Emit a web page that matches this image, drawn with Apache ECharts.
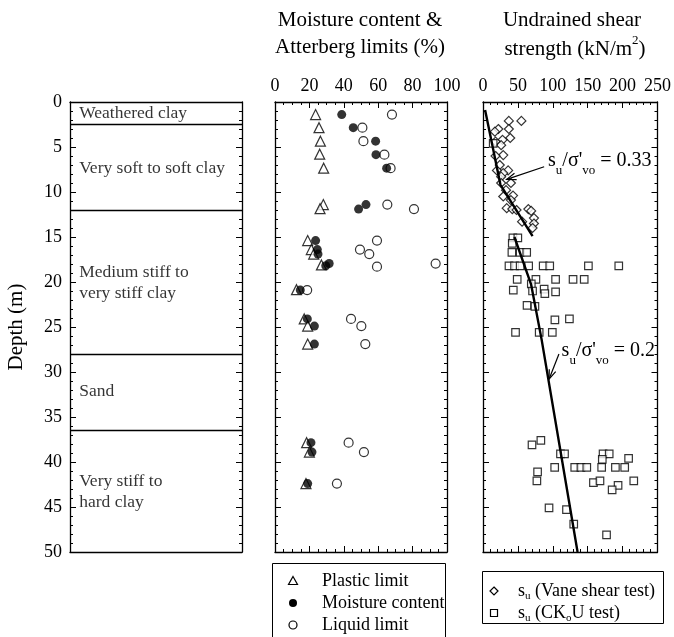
<!DOCTYPE html>
<html>
<head>
<meta charset="utf-8">
<script src="https://cdn.jsdelivr.net/npm/echarts@6/dist/echarts.min.js"></script>
<style>
  html, body { margin: 0; padding: 0; background: #fff; }
  #chart { width: 674px; height: 637px; }
</style>
</head>
<body>
<div id="chart"></div>
<script>
const FONT = '"Liberation Serif", "Times New Roman", serif';
const BLACK = '#000';

// ---- Soil profile ----
const layerBoundaries = [2.5, 12, 28, 36.5];
const layerNames = ['Weathered clay', 'Very soft to soft clay', 'Medium stiff to\nvery stiff clay', 'Sand', 'Very stiff to\nhard clay'];
const layerLabelDepths = [1.25, 7.4, 20.1, 32.2, 43.3];

// ---- Moisture content & Atterberg limits (%) vs depth (m) ----
const plasticDepth = [1.4, 2.85, 4.35, 5.8, 7.35, 11.4, 11.85, 15.4, 16.4, 16.9, 18.1, 20.85, 24.1, 24.9, 26.9, 37.85, 38.9, 42.4];
const plasticLimit = [23.6, 25.6, 26.4, 26.0, 28.3, 28.1, 26.2, 19.0, 21.1, 22.5, 27.0, 12.5, 17.0, 19.0, 19.0, 18.4, 20.0, 18.0];

const moistureDepth = [1.4, 2.85, 4.35, 5.85, 7.35, 11.4, 11.9, 15.4, 16.4, 16.9, 18.2, 17.95, 20.9, 24.1, 24.9, 26.9, 37.85, 38.9, 42.4];
const moistureContent = [38.8, 45.5, 58.5, 58.7, 64.9, 52.9, 48.6, 23.6, 24.6, 25.0, 29.5, 31.5, 14.7, 18.8, 22.9, 22.9, 20.9, 21.5, 19.0];

const liquidDepth = [1.4, 2.85, 4.35, 5.85, 7.35, 11.4, 11.9, 15.4, 16.4, 16.9, 18.3, 17.95, 20.9, 24.1, 24.9, 26.9, 37.85, 38.9, 42.4];
const liquidLimit = [68.0, 50.8, 51.4, 63.6, 67.2, 65.3, 80.8, 59.3, 49.4, 54.8, 59.3, 93.4, 18.7, 44.2, 50.2, 52.5, 42.8, 51.7, 36.0];

// ---- Undrained shear strength (kN/m2) vs depth (m) ----
const vaneSu = [37, 55, 22, 37, 17, 39, 28, 18, 26, 29, 18, 24, 36, 20, 29, 26, 26, 40, 33, 43, 40, 29, 34, 42, 48, 65, 69, 73, 73, 56, 71];
const vaneDepth = [2.1, 2.1, 3.0, 3.0, 3.3, 4.0, 4.2, 4.4, 4.8, 5.9, 6.0, 7.0, 7.6, 7.6, 7.9, 8.3, 9.0, 9.0, 9.8, 10.4, 10.9, 10.5, 11.8, 11.9, 12.0, 11.9, 12.1, 12.9, 13.5, 13.3, 14.0];

const ckouSu = [14.6,
  42.8, 49.9, 41.9, 41.4, 53.2, 62.6,
  37.2, 45.2, 53.2, 65.4, 86.2, 95.6, 151, 194.5,
  49, 75.8, 104, 129, 145, 69.2,
  43.4, 71, 87.6, 88.6, 104, 63.1, 74.4,
  103, 123.8, 46.6, 80.5, 99.3,
  70.2, 82.9, 111, 116.8, 172, 180.8, 170.9, 208.6,
  102.7, 131.4, 140.3, 148.7, 170, 189.7, 203,
  78.2, 77.2, 158.2, 167.6, 193.5, 185, 216,
  94.6, 119.6, 130, 177];
const ckouDepth = [4.6,
  15.1, 15.1, 15.7, 16.7, 16.7, 16.7,
  18.2, 18.2, 18.2, 18.2, 18.2, 18.2, 18.2, 18.2,
  19.7, 19.7, 19.7, 19.7, 19.7, 20.2,
  20.9, 21.0, 20.8, 21.3, 21.1, 22.6, 22.7,
  24.2, 24.1, 25.6, 25.6, 25.6,
  38.1, 37.6, 39.1, 39.1, 39.1, 39.1, 39.7, 39.6,
  40.6, 40.6, 40.6, 40.6, 40.6, 40.6, 40.6,
  41.1, 42.1, 42.3, 42.1, 42.6, 43.1, 42.1,
  45.1, 45.3, 46.9, 48.1];

// Trend lines su / sigma'vo
const trendUpperSu = [3, 25, 71];
const trendUpperDepth = [0.9, 9.2, 14.9];
const trendLowerSu = [45, 69, 84, 135.5];
const trendLowerDepth = [15.0, 20.3, 26.4, 50];

const ratioLabels = ['0.33', '0.2'];

function zip(xs, ys) { return xs.map((x, i) => [x, ys[i]]); }

const chart = echarts.init(document.getElementById('chart'), null, { renderer: 'canvas' });

const tickLine = { color: BLACK, width: 1 };
const axisLineStyle = { show: true, onZero: false, lineStyle: { color: BLACK, width: 1.3 } };

function depthAxis(grid, position, showLabel) {
  return {
    type: 'value', gridIndex: grid, position: position, inverse: true,
    min: 0, max: 50, interval: 5,
    axisLine: axisLineStyle,
    axisTick: { show: true, inside: true, length: 6, lineStyle: tickLine },
    minorTick: { show: true, splitNumber: 5, length: 3, lineStyle: tickLine },
    axisLabel: { show: showLabel, color: BLACK, fontFamily: FONT, fontSize: 18, margin: 8 },
    splitLine: { show: false },
    name: showLabel ? 'Depth (m)' : '',
    nameLocation: 'middle', nameGap: 43, nameRotate: 90,
    nameTextStyle: { color: BLACK, fontFamily: FONT, fontSize: 21 }
  };
}

function valueAxis(grid, position, max, interval, minorSplit, showLabel) {
  return {
    type: 'value', gridIndex: grid, position: position,
    min: 0, max: max, interval: interval,
    axisLine: axisLineStyle,
    axisTick: { show: true, inside: true, length: 6, lineStyle: tickLine },
    minorTick: { show: true, splitNumber: minorSplit, length: 3, lineStyle: tickLine },
    axisLabel: { show: showLabel, color: BLACK, fontFamily: FONT, fontSize: 18, margin: 7 },
    splitLine: { show: false }
  };
}

function frameAxis(grid, position) {
  return {
    type: 'value', gridIndex: grid, position: position, min: 0, max: 1,
    axisLine: axisLineStyle, axisTick: { show: false }, minorTick: { show: false },
    axisLabel: { show: false }, splitLine: { show: false }
  };
}

const openStyle = { color: '#fff', borderColor: BLACK, borderWidth: 1.2 };

chart.setOption({
  animation: false,
  backgroundColor: '#fff',
  grid: [
    { left: 70, top: 102, width: 172, height: 450 },
    { left: 275, top: 102, width: 172, height: 450 },
    { left: 483, top: 102, width: 177, height: 450 }
  ],
  xAxis: [
    frameAxis(0, 'top'),
    frameAxis(0, 'bottom'),
    valueAxis(1, 'top', 100, 20, 4, true),
    valueAxis(1, 'bottom', 100, 20, 4, false),
    valueAxis(2, 'top', 250, 50, 5, true),
    valueAxis(2, 'bottom', 250, 50, 5, false)
  ],
  yAxis: [
    depthAxis(0, 'left', true),
    depthAxis(0, 'right', false),
    depthAxis(1, 'left', false),
    depthAxis(1, 'right', false),
    depthAxis(2, 'left', false),
    depthAxis(2, 'right', false)
  ],
  series: [
    {
      name: 'Soil layers', type: 'scatter', xAxisIndex: 0, yAxisIndex: 0,
      symbolSize: 0, silent: true,
      data: layerNames.map((n, i) => ({ name: n, value: [0.03, layerLabelDepths[i]] })),
      label: {
        show: true, position: 'right', distance: 4, formatter: '{b}',
        color: BLACK, fontFamily: FONT, fontSize: 17.5, lineHeight: 21, align: 'left'
      },
      markLine: {
        silent: true, symbol: 'none', animation: false,
        label: { show: false },
        lineStyle: { color: BLACK, width: 1.3, type: 'solid' },
        data: layerBoundaries.map(d => ({ yAxis: d }))
      }
    },
    {
      name: 'Liquid limit', type: 'scatter', xAxisIndex: 2, yAxisIndex: 2,
      symbol: 'circle', symbolSize: 9, itemStyle: openStyle,
      data: zip(liquidLimit, liquidDepth)
    },
    {
      name: 'Plastic limit', type: 'scatter', xAxisIndex: 2, yAxisIndex: 2,
      symbol: 'triangle', symbolSize: 10, itemStyle: openStyle,
      data: zip(plasticLimit, plasticDepth)
    },
    {
      name: 'Moisture content', type: 'scatter', xAxisIndex: 2, yAxisIndex: 2,
      symbol: 'circle', symbolSize: 9, itemStyle: { color: BLACK },
      data: zip(moistureContent, moistureDepth)
    },
    {
      name: 'Vane shear test', type: 'scatter', xAxisIndex: 4, yAxisIndex: 4,
      symbol: 'diamond', symbolSize: 9, itemStyle: openStyle,
      data: zip(vaneSu, vaneDepth)
    },
    {
      name: 'CKoU test', type: 'scatter', xAxisIndex: 4, yAxisIndex: 4,
      symbol: 'rect', symbolSize: 7.5, itemStyle: openStyle,
      data: zip(ckouSu, ckouDepth)
    },
    {
      name: 'Trend 0.33', type: 'line', xAxisIndex: 4, yAxisIndex: 4,
      symbol: 'none', silent: true, z: 4,
      lineStyle: { color: BLACK, width: 2.4 },
      data: zip(trendUpperSu, trendUpperDepth)
    },
    {
      name: 'Trend 0.2', type: 'line', xAxisIndex: 4, yAxisIndex: 4,
      symbol: 'none', silent: true, z: 4,
      lineStyle: { color: BLACK, width: 2.4 },
      data: zip(trendLowerSu, trendLowerDepth)
    }
  ]
});

// ---- Titles, legends and ratio annotations ----
// main tokens sit at the top of the line box, subscripts at its bottom
const mainTok = { fontFamily: FONT, fontSize: 20, lineHeight: 21, verticalAlign: 'top', color: BLACK };
const subTok = { fontFamily: FONT, fontSize: 13, lineHeight: 26, verticalAlign: 'bottom', color: BLACK };

function textEl(x, y, text, size, align, rich) {
  const style = {
    x: x, y: y, text: text, fill: BLACK,
    font: size + 'px ' + FONT, fontFamily: FONT, fontSize: size,
    align: align || 'left', verticalAlign: 'middle',
    textAlign: align || 'left', textVerticalAlign: 'middle'
  };
  if (rich) { style.rich = rich; style.verticalAlign = 'top'; style.textVerticalAlign = 'top'; }
  return { type: 'text', silent: true, style: style };
}

const graphics = [];

// panel titles
graphics.push(textEl(360, 20, 'Moisture content &', 21, 'center'));
graphics.push(textEl(360, 47, 'Atterberg limits (%)', 21, 'center'));
graphics.push(textEl(572, 20, 'Undrained shear', 21, 'center'));
graphics.push(textEl(575, 34, '{m|strength (kN/m}{p|2}{m|)}', 21, 'center', {
  m: { fontFamily: FONT, fontSize: 21, lineHeight: 26, verticalAlign: 'bottom', color: BLACK },
  p: { fontFamily: FONT, fontSize: 13, lineHeight: 13, verticalAlign: 'top', color: BLACK }
}));

// legend: index properties
graphics.push({ type: 'rect', silent: true, shape: { x: 272.5, y: 563.5, width: 173, height: 120 },
  style: { fill: null, stroke: BLACK, lineWidth: 1 } });
graphics.push({ type: 'polygon', silent: true, shape: { points: [[293, 576.5], [297.5, 584.5], [288.5, 584.5]] },
  style: { fill: '#fff', stroke: BLACK, lineWidth: 1.2 } });
graphics.push({ type: 'circle', silent: true, shape: { cx: 293, cy: 603, r: 4 }, style: { fill: BLACK } });
graphics.push({ type: 'circle', silent: true, shape: { cx: 293, cy: 625, r: 4 },
  style: { fill: '#fff', stroke: BLACK, lineWidth: 1.2 } });
graphics.push(textEl(322, 581, 'Plastic limit', 18));
graphics.push(textEl(322, 603, 'Moisture content', 18));
graphics.push(textEl(322, 625, 'Liquid limit', 18));

// legend: shear strength
const legTok = { fontFamily: FONT, fontSize: 18, lineHeight: 18, verticalAlign: 'top', color: BLACK };
const legSub = { fontFamily: FONT, fontSize: 11, lineHeight: 20, verticalAlign: 'bottom', color: BLACK };
graphics.push({ type: 'rect', silent: true, shape: { x: 482.5, y: 571.5, width: 181, height: 52 },
  style: { fill: null, stroke: BLACK, lineWidth: 1 } });
graphics.push({ type: 'polygon', silent: true, shape: { points: [[494, 587], [498, 591], [494, 595], [490, 591]] },
  style: { fill: '#fff', stroke: BLACK, lineWidth: 1.2 } });
graphics.push({ type: 'rect', silent: true, shape: { x: 490.5, y: 609.5, width: 7, height: 7 },
  style: { fill: '#fff', stroke: BLACK, lineWidth: 1.2 } });
graphics.push(textEl(518, 582, '{m|s}{s|u}{m| (Vane shear test)}', 18, 'left', { m: legTok, s: legSub }));
graphics.push(textEl(518, 604, '{m|s}{s|u}{m| (CK}{s|o}{m|U test)}', 18, 'left', { m: legTok, s: legSub }));

// su / sigma'vo annotations with open arrows
const ratioTextAt = [[93.2, 6.6], [112.6, 27.7]];
const ratioArrowTail = [[87.6, 7.2], [108.8, 28.0]];
const ratioArrowTip = [[33.9, 8.6], [94.6, 30.8]];

function toPx(pt) { return chart.convertToPixel({ xAxisIndex: 4, yAxisIndex: 4 }, pt); }

ratioLabels.forEach((r, i) => {
  const t = toPx(ratioTextAt[i]);
  graphics.push(textEl(t[0], t[1] - 10.5, '{m|s}{s|u}{m|/σ\'}{s|vo}{m| = ' + r + '}', 20, 'left', { m: mainTok, s: subTok }));
  const a = toPx(ratioArrowTail[i]);
  const b = toPx(ratioArrowTip[i]);
  const ang = Math.atan2(b[1] - a[1], b[0] - a[0]);
  const L = 10, spread = 0.35;
  const p1 = [b[0] - L * Math.cos(ang - spread), b[1] - L * Math.sin(ang - spread)];
  const p2 = [b[0] - L * Math.cos(ang + spread), b[1] - L * Math.sin(ang + spread)];
  graphics.push({ type: 'line', silent: true, z: 10, shape: { x1: a[0], y1: a[1], x2: b[0], y2: b[1] },
    style: { stroke: BLACK, lineWidth: 1.2 } });
  graphics.push({ type: 'polyline', silent: true, z: 10, shape: { points: [p1, b, p2] },
    style: { stroke: BLACK, fill: null, lineWidth: 1.2 } });
});

chart.setOption({ graphic: graphics });
</script>
</body>
</html>
